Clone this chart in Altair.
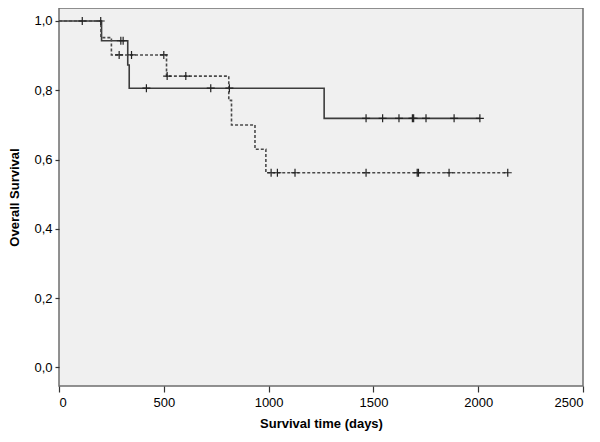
import altair as alt
import pandas as pd

# Solid curve (group 1): step points (time in days, survival)
solid_times = [0, 203, 328, 335, 1265, 2008]
solid_surv = [1.0, 0.943, 0.873, 0.806, 0.719, 0.719]
solid_censor_times = [111, 295, 306, 417, 724, 813, 1465, 1544, 1622, 1686, 1692, 1751, 1885, 2008]

# Dashed curve (group 2)
dashed_times = [0, 200, 250, 513, 810, 823, 935, 987, 2141]
dashed_surv = [1.0, 0.952, 0.902, 0.841, 0.771, 0.700, 0.630, 0.562, 0.562]
dashed_censor_times = [199, 287, 346, 500, 516, 605, 1012, 1042, 1126, 1465, 1709, 1715, 1861, 2141]

x_ticks = [0, 500, 1000, 1500, 2000, 2500]
y_ticks = [0.0, 0.2, 0.4, 0.6, 0.8, 1.0]


def level_at(t, times, surv):
    lv = surv[0]
    for tt, s in zip(times, surv):
        if tt <= t:
            lv = s
    return lv


solid_df = pd.DataFrame({"time": solid_times, "surv": solid_surv})
dashed_df = pd.DataFrame({"time": dashed_times, "surv": dashed_surv})
solid_c = pd.DataFrame({"time": solid_censor_times,
                        "surv": [level_at(t, solid_times, solid_surv) for t in solid_censor_times]})
dashed_c = pd.DataFrame({"time": dashed_censor_times,
                         "surv": [level_at(t, dashed_times, dashed_surv) for t in dashed_censor_times]})

xenc = alt.X("time:Q",
             scale=alt.Scale(domain=[0, 2500], nice=False, zero=False),
             axis=alt.Axis(values=x_ticks, title="Survival time (days)", format="d",
                           tickSize=6, labelPadding=4, titlePadding=8))
yenc = alt.Y("surv:Q",
             scale=alt.Scale(domain=[-0.0534, 1.0375], nice=False, zero=False),
             axis=alt.Axis(values=y_ticks, title="Overall Survival",
                           labelExpr="replace(format(datum.value, '.1f'), '.', ',')",
                           tickSize=4, labelPadding=3, titlePadding=12))

solid_line = alt.Chart(solid_df).mark_line(
    interpolate="step-after", color="#3c3c3c", strokeWidth=1.6
).encode(x=xenc, y=yenc)

dashed_line = alt.Chart(dashed_df).mark_line(
    interpolate="step-after", color="#4a4a4a", strokeWidth=1.6, strokeDash=[3, 2]
).encode(x=xenc, y=yenc)

cross = "M-1,0L1,0M0,-1L0,1"
solid_pts = alt.Chart(solid_c).mark_point(
    shape=cross, size=64, filled=False, color="#222222", strokeWidth=1.2, opacity=1
).encode(x=xenc, y=yenc)
dashed_pts = alt.Chart(dashed_c).mark_point(
    shape=cross, size=64, filled=False, color="#222222", strokeWidth=1.2, opacity=1
).encode(x=xenc, y=yenc)

chart = alt.layer(solid_line, dashed_line, solid_pts, dashed_pts).properties(
    width=524, height=378,
    autosize=alt.AutoSizeParams(type="none"),
    padding={"left": 51, "top": 0, "right": 9, "bottom": 50},
).configure_view(
    fill="#f0f0f0", stroke="#6e6e6e", strokeWidth=1.5
).configure_axis(
    grid=False, domain=False,
    labelFont="Liberation Sans", titleFont="Liberation Sans",
    labelFontSize=13, titleFontSize=13, titleFontWeight="bold",
    labelColor="#000000", titleColor="#000000", tickColor="#333333", tickWidth=1.2,
)

chart.save("out.html", embed_options={"renderer": "svg", "actions": False})
